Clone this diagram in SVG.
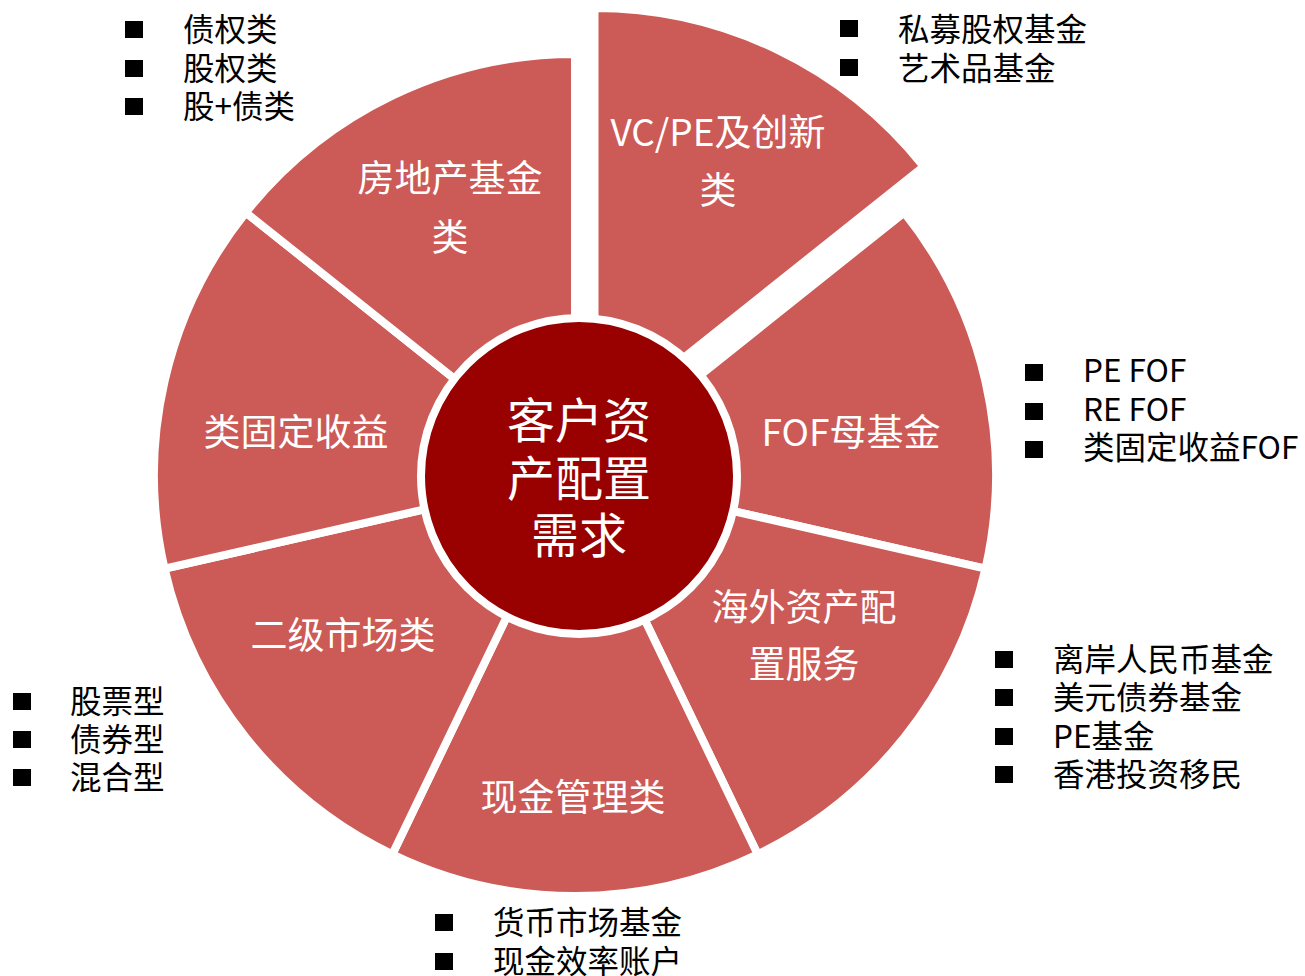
<svg xmlns="http://www.w3.org/2000/svg" width="1305" height="976" viewBox="0 0 1305 976">
<style>
.seg{fill:#CC5A56;stroke:#FFFFFF;stroke-width:8;stroke-linejoin:miter}
.lab{font-family:"Noto Sans CJK SC","Noto Sans",sans-serif;font-size:37px;fill:#FFFFFF;text-anchor:middle}
.ctr{font-family:"Noto Sans CJK SC","Noto Sans",sans-serif;font-size:48px;fill:#FFFFFF;text-anchor:middle}
.li{font-family:"Noto Sans CJK SC","Noto Sans",sans-serif;font-size:31.5px;fill:#000000}
.b{fill:#000000}
</style>
<rect width="1305" height="976" fill="#FFFFFF"/>
<g id="seg-vcpe">
<path class="seg" d="M594.5 429 L594.5 8 A421 421 0 0 1 923.65 166.51 Z"/>
<text class="lab" x="718" y="146">VC/PE及创新</text>
<text class="lab" x="718" y="204">类</text>
</g>
<g id="seg-fof">
<path class="seg" d="M575 475 L904.15 212.51 A421 421 0 0 1 985.45 568.68 Z"/>
<text class="lab" x="851" y="446">FOF母基金</text>
</g>
<g id="seg-overseas">
<path class="seg" d="M575 475 L985.45 568.68 A421 421 0 0 1 757.66 854.31 Z"/>
<text class="lab" x="804" y="621">海外资产配</text>
<text class="lab" x="804" y="678">置服务</text>
</g>
<g id="seg-cash">
<path class="seg" d="M575 475 L757.66 854.31 A421 421 0 0 1 392.34 854.31 Z"/>
<text class="lab" x="573" y="811">现金管理类</text>
</g>
<g id="seg-secondary">
<path class="seg" d="M575 475 L392.34 854.31 A421 421 0 0 1 164.55 568.68 Z"/>
<text class="lab" x="343" y="649">二级市场类</text>
</g>
<g id="seg-fixed">
<path class="seg" d="M575 475 L164.55 568.68 A421 421 0 0 1 245.85 212.51 Z"/>
<text class="lab" x="296" y="446">类固定收益</text>
</g>
<g id="seg-realestate">
<path class="seg" d="M575 475 L245.85 212.51 A421 421 0 0 1 575 54 Z"/>
<text class="lab" x="450" y="192">房地产基金</text>
<text class="lab" x="450" y="251">类</text>
</g>
<g id="center">
<circle cx="579" cy="476" r="158" fill="#990000" stroke="#FFFFFF" stroke-width="8"/>
<text class="ctr" x="579" y="438">客户资</text>
<text class="ctr" x="579" y="496">产配置</text>
<text class="ctr" x="579" y="553">需求</text>
</g>
<g id="list-realestate">
<rect class="b" x="125" y="21" width="18" height="17"/>
<rect class="b" x="125" y="60" width="18" height="17"/>
<rect class="b" x="125" y="98" width="18" height="17"/>
<text class="li" x="183" y="41">债权类</text>
<text class="li" x="183" y="80">股权类</text>
<text class="li" x="183" y="118">股+债类</text>
</g>
<g id="list-vcpe">
<rect class="b" x="840" y="20" width="18" height="17"/>
<rect class="b" x="840" y="59" width="18" height="17"/>
<text class="li" x="898" y="41">私募股权基金</text>
<text class="li" x="898" y="80">艺术品基金</text>
</g>
<g id="list-fof">
<rect class="b" x="1025" y="364" width="18" height="17"/>
<rect class="b" x="1025" y="403" width="18" height="17"/>
<rect class="b" x="1025" y="441" width="18" height="17"/>
<text class="li" x="1083" y="382">PE FOF</text>
<text class="li" x="1083" y="421">RE FOF</text>
<text class="li" x="1083" y="459">类固定收益FOF</text>
</g>
<g id="list-overseas">
<rect class="b" x="995" y="651" width="18" height="17"/>
<rect class="b" x="995" y="689" width="18" height="17"/>
<rect class="b" x="995" y="728" width="18" height="17"/>
<rect class="b" x="995" y="766" width="18" height="17"/>
<text class="li" x="1053" y="671">离岸人民币基金</text>
<text class="li" x="1053" y="709">美元债券基金</text>
<text class="li" x="1053" y="748">PE基金</text>
<text class="li" x="1053" y="786">香港投资移民</text>
</g>
<g id="list-secondary">
<rect class="b" x="13" y="693" width="18" height="17"/>
<rect class="b" x="13" y="731" width="18" height="17"/>
<rect class="b" x="13" y="769" width="18" height="17"/>
<text class="li" x="70" y="713">股票型</text>
<text class="li" x="70" y="751">债券型</text>
<text class="li" x="70" y="789">混合型</text>
</g>
<g id="list-cash">
<rect class="b" x="435" y="914" width="18" height="17"/>
<rect class="b" x="435" y="953" width="18" height="17"/>
<text class="li" x="493" y="934">货币市场基金</text>
<text class="li" x="493" y="973">现金效率账户</text>
</g>
</svg>
